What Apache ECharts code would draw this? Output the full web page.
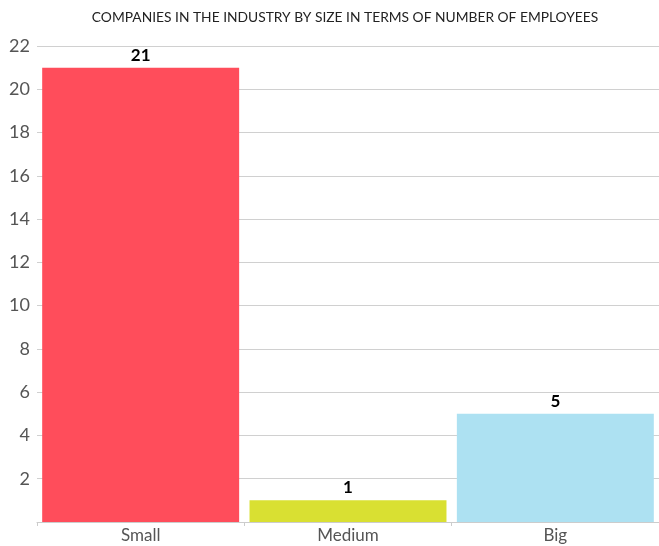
<!DOCTYPE html>
<html><head><meta charset="utf-8">
<script src="https://cdn.jsdelivr.net/npm/echarts@6/dist/echarts.min.js"></script>
<style>html,body{margin:0;padding:0;background:#fff}#c{width:659px;height:546px}</style>
</head><body><div id="c"></div>
<script>
const title = 'COMPANIES IN THE INDUSTRY BY SIZE IN TERMS OF NUMBER OF EMPLOYEES';
const categories = ['Small', 'Medium', 'Big'];
const values = [21, 1, 5];
const colors = ['#FF4D5B', '#D9E032', '#ADE1F2'];
const yTicks = [0, 2, 4, 6, 8, 10, 12, 14, 16, 18, 20, 22];

const chart = echarts.init(document.getElementById('c'));
chart.setOption({
  animation: false,
  textStyle: { fontFamily: 'Lato' },
  title: { text: title, left: 340, textAlign: 'center', top: 6,
    textStyle: { fontSize: 13.8, fontWeight: 'normal', color: '#222', fontFamily: 'Lato' } },
  grid: { left: 37, width: 625, top: 46, bottom: 24, containLabel: false },
  xAxis: { type: 'category', data: categories,
    axisLine: { lineStyle: { color: '#ccc' } },
    axisTick: { show: true, lineStyle: { color: '#ccc' }, length: 4 },
    axisLabel: { color: '#555', fontSize: 17, margin: 5 } },
  yAxis: { type: 'value', min: yTicks[0], max: yTicks[yTicks.length - 1], interval: 2,
    axisLine: { show: false }, axisTick: { show: false },
    splitLine: { lineStyle: { color: '#d0d0d0' } },
    axisLabel: { color: '#555', fontSize: 18, margin: 7,
      formatter: v => v === 0 ? '' : String(v) } },
  series: [{ type: 'bar', barCategoryGap: '5%',
    data: values.map((v, i) => ({ value: v, itemStyle: { color: colors[i] } })),
    label: { show: true, position: 'top', color: '#000', fontWeight: 'bold', fontSize: 17, distance: 4 } }]
});
</script></body></html>
